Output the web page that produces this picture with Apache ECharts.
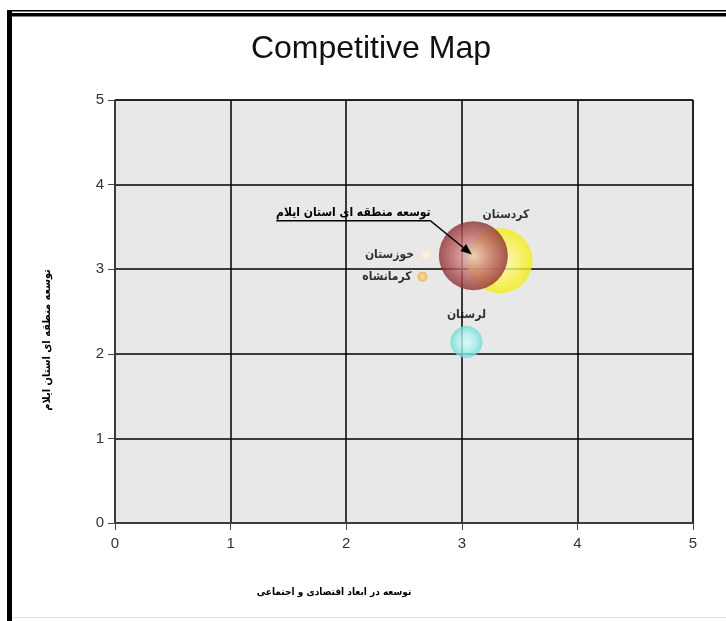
<!DOCTYPE html>
<html>
<head>
<meta charset="utf-8">
<script src="https://cdn.jsdelivr.net/npm/echarts@6/dist/echarts.min.js"></script>
<style>
  html, body { margin: 0; padding: 0; background: #fff; }
  #competitive_map { width: 726px; height: 621px; }
</style>
</head>
<body>
<div id="competitive_map"></div>
<script>
// regions, x = توسعه در ابعاد اقتصادی و اجتماعی , y = توسعه منطقه ای استان ایلام
var regionNames = ['کردستان', 'توسعه منطقه ای استان ایلام', 'لرستان', 'خوزستان', 'کرمانشاه'];
var devEconSocial = [3.33, 3.10, 3.04, 2.69, 2.66];
var devRegional = [3.10, 3.16, 2.14, 3.17, 2.91];
var bubbleSize = [3.25, 3.45, 1.6, 0.6, 0.5];
var axisTicks = [0, 1, 2, 3, 4, 5];

var arabicFont = '"DejaVu Sans Condensed", "DejaVu Sans", sans-serif';

// colour + label placement per region (same order as regionNames)
var looks = [
    {stops: ['#fffbc0', '#fbf455', '#f4ec10'], label: {position: 'top', distance: 7, offset: [6, 0]}},
    {stops: ['#ebc8cc', '#bd6262', '#8c3030'], label: {show: false}},
    {stops: ['#d8fbf8', '#a4efea', '#6adcd4'], label: {position: 'top', distance: 5}},
    {stops: ['#fff4ea', '#fdebdb', '#fbe0c8'], label: {position: 'left', distance: 6}},
    {stops: ['#fbdc98', '#f5c060', '#eeaa38'], label: {position: 'left', distance: 6}}
];

var myChart = echarts.init(document.getElementById('competitive_map'));

var points = regionNames.map(function (name, i) {
    var lab = Object.assign({
        show: true,
        formatter: name,
        color: '#000',
        fontFamily: arabicFont,
        fontWeight: 'bold',
        fontSize: 12
    }, looks[i].label);
    return {
        name: name,
        value: [devEconSocial[i], devRegional[i], bubbleSize[i]],
        itemStyle: {
            color: {
                type: 'radial', x: 0.5, y: 0.5, r: 0.5,
                colorStops: [
                    {offset: 0, color: looks[i].stops[0]},
                    {offset: 0.6, color: looks[i].stops[1]},
                    {offset: 1, color: looks[i].stops[2]}
                ]
            }
        },
        label: lab
    };
});

var axisCommon = {
    type: 'value',
    min: axisTicks[0],
    max: axisTicks[axisTicks.length - 1],
    interval: 1,
    axisLine: {show: true, lineStyle: {color: '#444', width: 1.5}},
    axisTick: {show: true, inside: false, length: 7, lineStyle: {color: '#444'}},
    splitLine: {show: true, lineStyle: {color: '#000', width: 1.5}},
    axisLabel: {color: '#333', fontSize: 15, fontFamily: 'Liberation Sans'}
};

var option = {
    backgroundColor: '#fff',
    animation: false,
    title: {
        text: 'Competitive Map',
        left: 366,
        top: 28,
        textAlign: 'center',
        textStyle: {
            color: '#111',
            fontFamily: 'Liberation Sans',
            fontWeight: 'normal',
            fontSize: 32
        }
    },
    grid: {
        show: true,
        left: 115,
        top: 100,
        right: 33,
        bottom: 98,
        backgroundColor: '#e8e8e8',
        borderColor: '#222',
        borderWidth: 1
    },
    xAxis: Object.assign({}, axisCommon, {
        axisLabel: Object.assign({}, axisCommon.axisLabel, {margin: 13})
    }),
    yAxis: Object.assign({}, axisCommon, {
        axisLabel: Object.assign({}, axisCommon.axisLabel, {margin: 11})
    }),
    series: [
        {
            name: 'Competitive Map',
            type: 'scatter',
            symbol: 'circle',
            symbolSize: function (v) { return v[2] * 20; },
            data: points
        }
    ]
};

if (option && typeof option === "object") {
    myChart.setOption(option, true);
}

// frame, axis titles and the arrow annotation for Ilam
var p = myChart.convertToPixel({gridIndex: 0}, [devEconSocial[1], devRegional[1]]);
var ux = p[0] - 43, uy = p[1] - 35;
var dx = p[0] - ux, dy = p[1] - uy, dl = Math.sqrt(dx * dx + dy * dy);
dx /= dl; dy /= dl;
var tip = [p[0] - 2 * dx, p[1] - 2 * dy];
var base = [tip[0] - 11 * dx, tip[1] - 11 * dy];

myChart.setOption({
    graphic: [
        {type: 'rect', shape: {x: 7, y: 10, width: 726, height: 1.5}, style: {fill: '#000'}, silent: true},
        {type: 'rect', shape: {x: 7, y: 13, width: 726, height: 3.5}, style: {fill: '#000'}, silent: true},
        {type: 'rect', shape: {x: 7, y: 10, width: 5, height: 621}, style: {fill: '#000'}, silent: true},
        {type: 'rect', shape: {x: 12, y: 617, width: 726, height: 1}, style: {fill: '#e4e4e4'}, silent: true},
        {
            type: 'text', x: 334, y: 592,
            style: {
                text: 'توسعه در ابعاد اقتصادی و اجتماعی',
                fill: '#000', font: 'bold 10px ' + arabicFont,
                textAlign: 'center', textVerticalAlign: 'middle'
            }
        },
        {
            type: 'text', x: 47, y: 340, rotation: Math.PI / 2,
            style: {
                text: 'توسعه منطقه ای استان ایلام',
                fill: '#000', font: 'bold 11px ' + arabicFont,
                textAlign: 'center', textVerticalAlign: 'middle'
            }
        },
        {
            type: 'polyline',
            shape: {points: [[p[0] - 197, uy], [ux, uy], base]},
            style: {stroke: '#000', lineWidth: 1.5, fill: null},
            z: 100
        },
        {
            type: 'polygon',
            shape: {points: [tip, [base[0] - 4.5 * dy, base[1] + 4.5 * dx], [base[0] + 4.5 * dy, base[1] - 4.5 * dx]]},
            style: {fill: '#000'},
            z: 100
        },
        {
            type: 'text', x: p[0] - 120, y: p[1] - 43, z: 100,
            style: {
                text: regionNames[1],
                fill: '#000', font: 'bold 12px ' + arabicFont,
                textAlign: 'center', textVerticalAlign: 'middle'
            }
        }
    ]
});
</script>
</body>
</html>
